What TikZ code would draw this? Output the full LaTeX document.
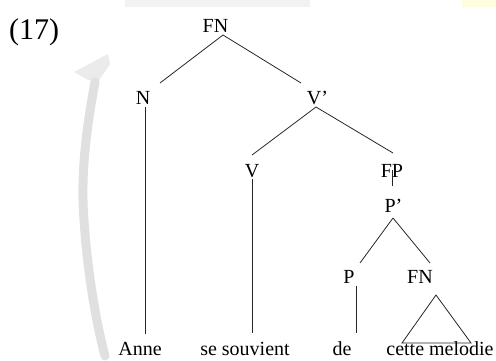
\documentclass[tikz,border=0pt]{standalone}
\usepackage{fontspec}
\setmainfont{Liberation Serif}
\begin{document}
\begin{tikzpicture}[x=1pt,y=-1pt,
  lab/.style={font=\fontsize{20}{22}\selectfont, inner sep=0pt, anchor=base},
  edge/.style={line width=0.8pt, black!85},
  wm/.style={line cap=round, line join=round, color=black!12}]
\useasboundingbox (0,0) rectangle (496,361);
% faint watermark
\fill[black!5] (125,0) rectangle (310,7);
\fill[yellow!12] (462,0) rectangle (496,7);
\fill[black!8] (74,72) -- (108,54) -- (110,64) -- (98,82) -- (88,80) -- cycle;
\draw[wm, line width=9pt] (95,82) .. controls (88,120) and (80,170) .. (84,220) .. controls (88,280) and (98,330) .. (105,356);
% title
\node[inner sep=0pt, anchor=base west, font=\fontsize{30}{32}\selectfont] (num) at (9,40) {(17)};
% tree nodes
\node[lab] (FN) at (215.5,33) {FN};
\node[lab] (N) at (143,105) {N};
\node[lab] (Vb) at (317.5,105) {V’};
\node[lab] (V) at (252,178) {V};
\node[lab] (FP) at (392,178) {FP};
\node[lab] (Pb) at (393.5,212) {P’};
\node[lab] (P) at (349,283) {P};
\node[lab] (FNb) at (420,283) {FN};
% words
\node[lab] (w1) at (140,355) {Anne};
\node[lab] (w2) at (245,355) {se souvient};
\node[lab] (w3) at (342,355) {de};
\node[lab] (w4) at (440,355) {cette melodie};
% connection points
\coordinate (fnj) at (223,35);
\coordinate (vbj) at (316,107);
\coordinate (pbj) at (393,218);
% edges
\draw[edge] (fnj) -- (160,83) coordinate (nt);
\draw[edge] (fnj) -- (301,83) coordinate (vbt);
\draw[edge] (145,107) coordinate (nb) -- (145,334) coordinate (w1t);
\draw[edge] (vbj) -- (252,155) coordinate (vt);
\draw[edge] (vbj) -- (393,153) coordinate (fpt);
\draw[edge] (252,179) coordinate (vb) -- (252,333) coordinate (w2t);
\draw[edge] (392.5,170) coordinate (fpb) -- (392.5,186) coordinate (pbt);
\draw[edge] (pbj) -- (360,263) coordinate (pt);
\draw[edge] (pbj) -- (430,263) coordinate (fnbt);
\draw[edge] (356,286) coordinate (pb) -- (356,333) coordinate (w3t);
\draw[edge, line join=miter] (436,295) coordinate (tri) -- (471,343) -- (402,343) -- cycle;
\end{tikzpicture}
\end{document}
